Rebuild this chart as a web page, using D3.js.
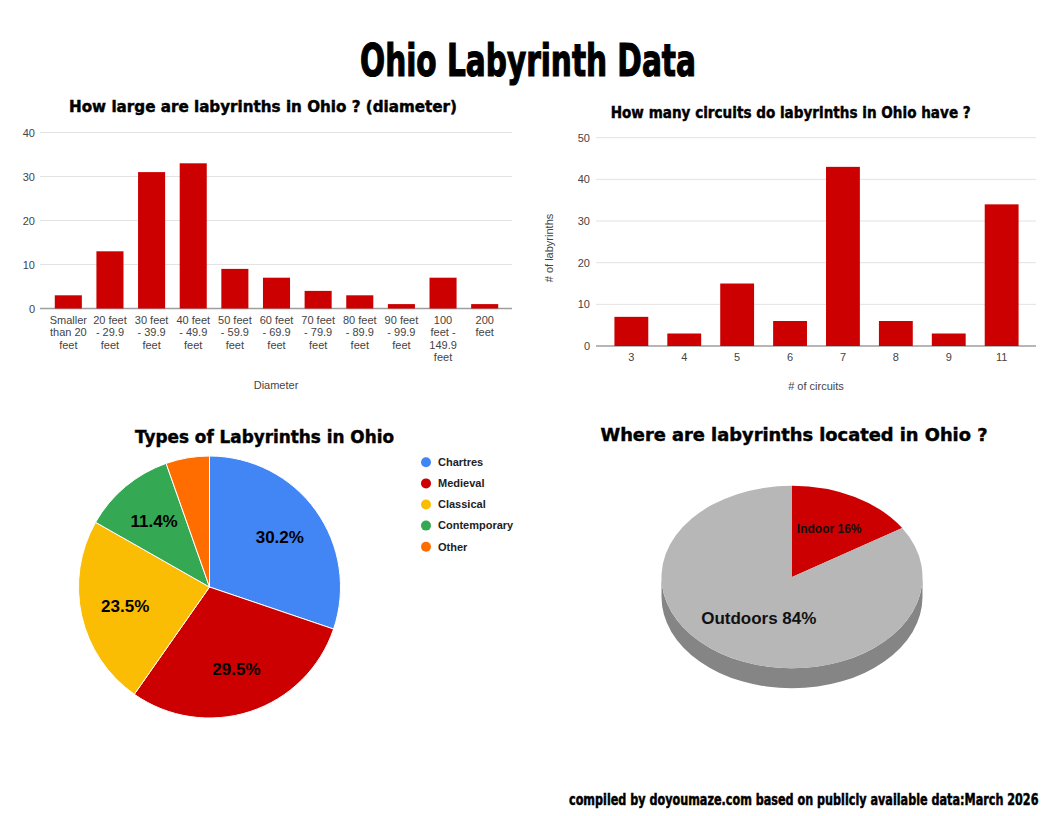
<!DOCTYPE html>
<html>
<head>
<meta charset="utf-8">
<script src="https://cdn.jsdelivr.net/npm/d3@7"></script>
<style>
  body { margin: 0; background: #fff; }
  svg { display: block; }
  .axis text { font-family: "Liberation Sans", Arial, sans-serif; font-size: 11px; fill: #444; }
  .chart-title { font-family: "DejaVu Sans", sans-serif; font-weight: bold; fill: #000; stroke: #000; stroke-width: 0.45; }
  .poster { font-family: "Liberation Sans Narrow", "DejaVu Sans Condensed", sans-serif; font-weight: bold; fill: #000; stroke: #000; }
</style>
</head>
<body>
<svg class="main" width="1056" height="816"></svg>
<script>
(function () {
  'use strict';

  // diameter chart
  const sizeLabels = [
    "Smaller than 20 feet", "20 feet - 29.9 feet", "30 feet - 39.9 feet",
    "40 feet - 49.9 feet", "50 feet - 59.9 feet", "60 feet - 69.9 feet",
    "70 feet - 79.9 feet", "80 feet - 89.9 feet", "90 feet - 99.9 feet",
    "100 feet - 149.9 feet", "200 feet"
  ];
  const sizeCounts = [3, 13, 31, 33, 9, 7, 4, 3, 1, 7, 1];

  // circuits chart
  const circuitLabels = ["3", "4", "5", "6", "7", "8", "9", "11"];
  const circuitCounts = [7, 3, 15, 6, 43, 6, 3, 34];

  // types pie
  const typeLabels = ["Chartres", "Medieval", "Classical", "Contemporary", "Other"];
  const typeCounts = [45, 44, 35, 17, 8];
  const typeColors = ["#4285f4", "#cc0000", "#fbbc04", "#34a853", "#ff6d01"];

  // location pie (3d)
  const locationLabels = ["Indoor", "Outdoors"];
  const locationShares = [16, 84];
  const locationColors = ["#cc0000", "#b7b7b7"];

  const svg = d3.select("svg.main");
  const barColor = "#cc0000";

  function wrap(text, width) {
    text.each(function () {
      const t = d3.select(this);
      const words = t.text().split(/\s+/);
      t.text(null);
      let line = [];
      let tspan = t.append("tspan").attr("x", 0);
      words.forEach(w => {
        line.push(w);
        tspan.text(line.join(" "));
        if (tspan.node().getComputedTextLength() > width && line.length > 1) {
          line.pop();
          tspan.text(line.join(" "));
          line = [w];
          tspan = t.append("tspan").attr("x", 0).attr("dy", "1.13em").text(w);
        }
      });
    });
  }

  // squeeze a text horizontally so it spans `width` px
  function squeeze(sel, x, y, width) {
    const k = width / sel.node().getComputedTextLength();
    return sel.attr("transform", `translate(${x},${y}) scale(${k},1)`);
  }

  function barChart(opts) {
    const g = svg.append("g");

    const x = d3.scaleBand()
      .domain(opts.labels)
      .range(opts.xRange)
      .paddingInner(opts.pad)
      .paddingOuter(opts.pad / 2);

    const y = d3.scaleLinear().domain(opts.yDomain).range(opts.yRange);

    // gridlines
    g.append("g")
      .selectAll("line")
      .data(y.ticks(5))
      .join("line")
      .attr("x1", opts.gridX[0])
      .attr("x2", opts.gridX[1])
      .attr("y1", d => y(d))
      .attr("y2", d => y(d))
      .attr("stroke", d => (d === 0 ? "#9e9e9e" : "#e3e3e3"))
      .attr("stroke-width", d => (d === 0 ? 1.5 : 1));

    g.append("g")
      .selectAll("rect")
      .data(opts.values)
      .join("rect")
      .attr("x", (d, i) => x(opts.labels[i]))
      .attr("width", x.bandwidth())
      .attr("y", d => y(d))
      .attr("height", d => y(0) - y(d))
      .attr("fill", barColor);

    const yAxis = g.append("g")
      .attr("class", "axis")
      .attr("transform", `translate(${opts.gridX[0]},0)`)
      .call(d3.axisLeft(y).ticks(5).tickSize(0).tickPadding(opts.yPad));
    yAxis.select(".domain").remove();

    const xAxis = g.append("g")
      .attr("class", "axis")
      .attr("transform", `translate(0,${y(0)})`)
      .call(d3.axisBottom(x).tickSize(0).tickPadding(7.5));
    xAxis.select(".domain").remove();
    if (opts.wrap) xAxis.selectAll(".tick text").call(wrap, opts.wrap);

    g.append("text")
      .attr("class", "chart-title")
      .attr("x", opts.title.x)
      .attr("y", opts.title.y)
      .attr("text-anchor", "middle")
      .attr("font-size", 15)
      .attr("textLength", opts.title.w)
      .attr("lengthAdjust", "spacingAndGlyphs")
      .text(opts.title.text);

    g.append("text")
      .attr("x", opts.xTitle.x)
      .attr("y", opts.xTitle.y)
      .attr("text-anchor", "middle")
      .style("font-family", "'Liberation Sans', Arial, sans-serif")
      .style("font-size", "11px")
      .attr("fill", "#444")
      .text(opts.xTitle.text);

    if (opts.yTitle) {
      g.append("text")
        .attr("transform", `translate(${opts.yTitle.x},${opts.yTitle.y}) rotate(-90)`)
        .attr("text-anchor", "middle")
        .style("font-family", "'Liberation Sans', Arial, sans-serif")
        .style("font-size", "11px")
        .attr("fill", "#444")
        .text(opts.yTitle.text);
    }

    return g;
  }

  // poster title
  const heading = svg.append("text")
    .attr("class", "poster")
    .attr("text-anchor", "middle")
    .attr("font-size", 45)
    .attr("stroke-width", 1.2)
    .text("Ohio Labyrinth Data");
  squeeze(heading, 528, 76, 336);

  barChart({
    labels: sizeLabels,
    values: sizeCounts,
    xRange: [47.5, 505.5],
    pad: 0.35,
    yDomain: [0, 40],
    yRange: [308.5, 132.5],
    gridX: [40, 512],
    yPad: 5,
    wrap: 38,
    title: { text: "How large are labyrinths in Ohio ? (diameter)", x: 263, y: 112, w: 388 },
    xTitle: { text: "Diameter", x: 276, y: 389 }
  });

  barChart({
    labels: circuitLabels,
    values: circuitCounts,
    xRange: [604.9, 1028.1],
    pad: 0.36,
    yDomain: [0, 50],
    yRange: [346, 137.7],
    gridX: [596, 1036],
    yPad: 6,
    title: { text: "How many circuits do labyrinths in Ohio have ?", x: 790.7, y: 117.5, w: 360 },
    xTitle: { text: "# of circuits", x: 816, y: 390 },
    yTitle: { text: "# of labyrinths", x: 553, y: 248 }
  });

  // --- types pie ---
  const typeG = svg.append("g");
  const pieR = 131;
  const typeCenter = [209.5, 587];
  const typeTotal = d3.sum(typeCounts);
  const typeArcs = d3.pie().sort(null)(typeCounts);
  const arc = d3.arc().innerRadius(0).outerRadius(pieR);
  const labelArc = d3.arc().innerRadius(pieR * 0.66).outerRadius(pieR * 0.66);

  const pieG = typeG.append("g").attr("transform", `translate(${typeCenter})`);
  pieG.selectAll("path")
    .data(typeArcs)
    .join("path")
    .attr("d", arc)
    .attr("fill", (d, i) => typeColors[i])
    .attr("stroke", "#fff")
    .attr("stroke-width", 1);

  pieG.selectAll("text")
    .data(typeArcs.filter(d => d.value / typeTotal >= 0.1))
    .join("text")
    .attr("transform", d => `translate(${labelArc.centroid(d)})`)
    .attr("text-anchor", "middle")
    .attr("dy", "0.36em")
    .style("font-family", "'Liberation Sans', Arial, sans-serif")
    .style("font-size", "17px")
    .style("font-weight", "bold")
    .attr("fill", "#000")
    .text(d => `${(d.value / typeTotal * 100).toFixed(1)}%`);

  const legend = typeG.append("g").attr("transform", "translate(426,462.3)");
  const item = legend.selectAll("g")
    .data(typeLabels)
    .join("g")
    .attr("transform", (d, i) => `translate(0,${i * 21.1})`);
  item.append("circle").attr("r", 5).attr("fill", (d, i) => typeColors[i]);
  item.append("text")
    .attr("x", 12)
    .attr("dy", "0.35em")
    .style("font-family", "'Liberation Sans', Arial, sans-serif")
    .style("font-size", "11px")
    .style("font-weight", "bold")
    .attr("fill", "#222")
    .text(d => d);

  typeG.append("text")
    .attr("class", "chart-title")
    .attr("x", 264.5)
    .attr("y", 442.5)
    .attr("text-anchor", "middle")
    .attr("font-size", 17)
    .attr("textLength", 259)
    .attr("lengthAdjust", "spacingAndGlyphs")
    .text("Types of Labyrinths in Ohio");

  // --- location pie, drawn as a tilted disc ---
  const locG = svg.append("g");
  const cx = 792, cy = 577, rx = 130.5, ry = 91.3, depth = 20;
  const locArcs = d3.pie().sort(null)(locationShares);
  const pt = (a, dy = 0) => [cx + rx * Math.sin(a), cy - ry * Math.cos(a) + dy];

  // side wall, only the front half is visible
  locArcs.forEach((d, i) => {
    const a0 = Math.max(d.startAngle, Math.PI / 2);
    const a1 = Math.min(d.endAngle, Math.PI * 1.5);
    if (a1 <= a0) return;
    const large = a1 - a0 > Math.PI ? 1 : 0;
    const p0 = pt(a0), p1 = pt(a1), q1 = pt(a1, depth), q0 = pt(a0, depth);
    locG.append("path")
      .attr("d", `M${p0}A${rx},${ry} 0 ${large} 1 ${p1}L${q1}A${rx},${ry} 0 ${large} 0 ${q0}Z`)
      .attr("fill", d3.color(locationColors[i]).darker(0.9));
  });

  const topG = locG.append("g").attr("transform", `translate(${cx},${cy}) scale(1,${ry / rx})`);
  topG.selectAll("path")
    .data(locArcs)
    .join("path")
    .attr("d", d3.arc().innerRadius(0).outerRadius(rx))
    .attr("fill", (d, i) => locationColors[i]);

  const locLabelSize = { Indoor: 12, Outdoors: 17 };
  const mid = d => (d.startAngle + d.endAngle) / 2;
  locG.selectAll("text.slice")
    .data(locArcs)
    .join("text")
    .attr("class", "slice")
    .attr("x", d => cx + 2 + rx * 0.56 * Math.sin(mid(d)))
    .attr("y", d => cy - 4 - ry * 0.56 * Math.cos(mid(d)))
    .attr("text-anchor", "middle")
    .attr("dy", "0.36em")
    .style("font-family", "'Liberation Sans', Arial, sans-serif")
    .style("font-weight", "bold")
    .style("font-size", (d, i) => `${locLabelSize[locationLabels[i]]}px`)
    .attr("fill", "#111")
    .text((d, i) => `${locationLabels[i]} ${d.value}%`);

  locG.append("text")
    .attr("class", "chart-title")
    .attr("x", 794)
    .attr("y", 441)
    .attr("text-anchor", "middle")
    .attr("font-size", 17)
    .attr("textLength", 387)
    .attr("lengthAdjust", "spacingAndGlyphs")
    .text("Where are labyrinths located in Ohio ?");

  // footer
  const footer = svg.append("text")
    .attr("class", "poster")
    .attr("font-size", 16)
    .attr("stroke-width", 0.5)
    .text("compiled by doyoumaze.com based on publicly available data:March 2026");
  squeeze(footer, 569, 805, 470);

}());
</script>
</body>
</html>
